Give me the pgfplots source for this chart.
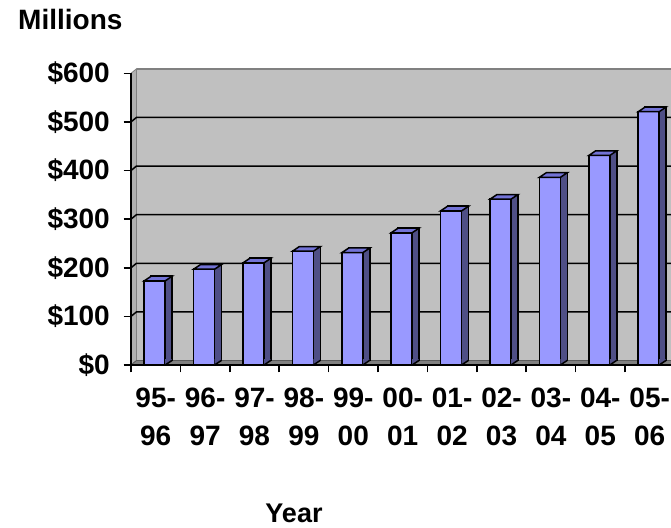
\documentclass[border=0pt]{standalone}
\usepackage{fontspec}
\setmainfont{Liberation Sans}
\usepackage{pgfplots}
\usepackage{pgfplotstable}
\pgfplotsset{compat=1.18}

\definecolor{barfront}{HTML}{9999FF}
\definecolor{barside}{HTML}{4F4F86}
\definecolor{bartop}{HTML}{7373D6}
\definecolor{wallgray}{HTML}{C0C0C0}
\definecolor{sidewall}{HTML}{B0B0B0}
\definecolor{floorgray}{HTML}{808080}

% top face of a column (front spans -11.5..9.5bp round the category centre)
\pgfdeclareplotmark{colTop}{%
  \pgfpathmoveto{\pgfpoint{-11.5bp}{0bp}}%
  \pgfpathlineto{\pgfpoint{-4.5bp}{4.7bp}}%
  \pgfpathlineto{\pgfpoint{16.5bp}{4.7bp}}%
  \pgfpathlineto{\pgfpoint{9.5bp}{0bp}}%
  \pgfpathclose
  \pgfusepathqfillstroke}
% foot of the side face, where it meets the floor
\pgfdeclareplotmark{colFoot}{%
  \pgfpathmoveto{\pgfpoint{9.5bp}{0bp}}%
  \pgfpathlineto{\pgfpoint{16.5bp}{4.7bp}}%
  \pgfpathlineto{\pgfpoint{15.7bp}{5.9bp}}%
  \pgfpathlineto{\pgfpoint{9.5bp}{5.9bp}}%
  \pgfpathclose
  \pgfusepathqfill
  \pgfpathmoveto{\pgfpoint{9.5bp}{0bp}}%
  \pgfpathlineto{\pgfpoint{16.5bp}{4.7bp}}%
  \pgfusepathqstroke}

\pgfplotstableread{
x     v    base
0.5   173  0
1.5   197  0
2.5   210  0
3.5   234  0
4.5   231  0
5.5   272  0
6.5   317  0
7.5   341  0
8.5   386  0
9.5   431  0
10.5  521  0
}\spend

\begin{document}
\begin{tikzpicture}
\begin{axis}[
    set layers,
    at={(131bp,163bp)}, anchor=south west,
    scale only axis, width=543.4bp, height=291.7bp,
    xmin=0, xmax=11, ymin=0, ymax=600,
    clip=false,
    axis x line*=bottom, axis y line*=left,
    axis line style={black, line width=1.5bp, -},
    tick align=outside, major tick length=7.5bp,
    tick style={black, line width=1.5bp},
    xtick={0,1,...,11}, xticklabels={},
    extra x ticks={0.5,1.5,...,10.5},
    extra x tick labels={{95-\\96},{96-\\97},{97-\\98},{98-\\99},{99-\\00},
        {00-\\01},{01-\\02},{02-\\03},{03-\\04},{04-\\05},{05-\\06}},
    extra x tick style={major tick length=0pt,
        xticklabel style={font=\bfseries\fontsize{28bp}{38bp}\selectfont,
            align=center, anchor=north, inner sep=0pt, yshift=-23bp}},
    ytick={0,100,...,600},
    yticklabels={\$0,\$100,\$200,\$300,\$400,\$500,\$600},
    every y tick label/.style={font=\bfseries\fontsize{28bp}{38bp}\selectfont,
        anchor=east, inner sep=0pt, xshift=-13.5bp},
]
\begin{pgfonlayer}{axis background}
  % back wall, side wall and floor of the 3-D chart
  \fill[wallgray] ([xshift=5.5bp,yshift=4.5bp]axis cs:0,0)
      rectangle ([xshift=5.5bp,yshift=4.5bp]axis cs:11.2,600);
  \filldraw[fill=sidewall, draw=floorgray, line width=0.8bp]
      (axis cs:0,0) -- ([xshift=5.5bp,yshift=4.5bp]axis cs:0,0)
      -- ([xshift=5.5bp,yshift=4.5bp]axis cs:0,600) -- (axis cs:0,600) -- cycle;
  \filldraw[fill=floorgray, draw=floorgray!70!black, line width=0.8bp]
      (axis cs:0,0) -- ([xshift=5.5bp,yshift=4.5bp]axis cs:0,0)
      -- ([xshift=5.5bp,yshift=4.5bp]axis cs:11.2,0) -- (axis cs:11.2,0) -- cycle;
  \pgfplotsinvokeforeach{100,200,300,400,500}{
    \draw[black, line width=1.5bp]
      (axis cs:0,#1) -- ([xshift=5.5bp,yshift=4.5bp]axis cs:0,#1)
      -- ([xshift=5.5bp,yshift=4.5bp]axis cs:11.2,#1);
  }
  \draw[floorgray, line width=2bp]
      ([xshift=5.5bp,yshift=4.5bp]axis cs:0,600)
      -- ([xshift=5.5bp,yshift=4.5bp]axis cs:11.2,600);
\end{pgfonlayer}

% back face of each column, seen as its side and top strips
\addplot[ybar, bar width=21bp, bar shift=-1bp, fill=barside, draw=black,
    line width=1.5bp, xshift=7bp, yshift=4.7bp] table[x=x, y=v] {\spend};
\addplot[only marks, mark=colFoot, line width=1.5bp,
    mark options={fill=barside, draw=black}] table[x=x, y=base] {\spend};
\addplot[only marks, mark=colTop, line width=1.5bp,
    mark options={fill=bartop, draw=black}] table[x=x, y=v] {\spend};
% front faces
\addplot[ybar, bar width=21bp, bar shift=-1bp, fill=barfront, draw=black,
    line width=1.5bp] table[x=x, y=v] {\spend};
\end{axis}

\node[anchor=base west, inner sep=0pt,
      font=\bfseries\fontsize{28bp}{34bp}\selectfont] at (18bp,498bp) {Millions};
\node[anchor=base, inner sep=0pt,
      font=\bfseries\fontsize{27bp}{32bp}\selectfont] at (294bp,5.4bp) {Year};
\pgfresetboundingbox
\path[use as bounding box] (0,0) rectangle (671bp,528bp);
\end{tikzpicture}
\end{document}
